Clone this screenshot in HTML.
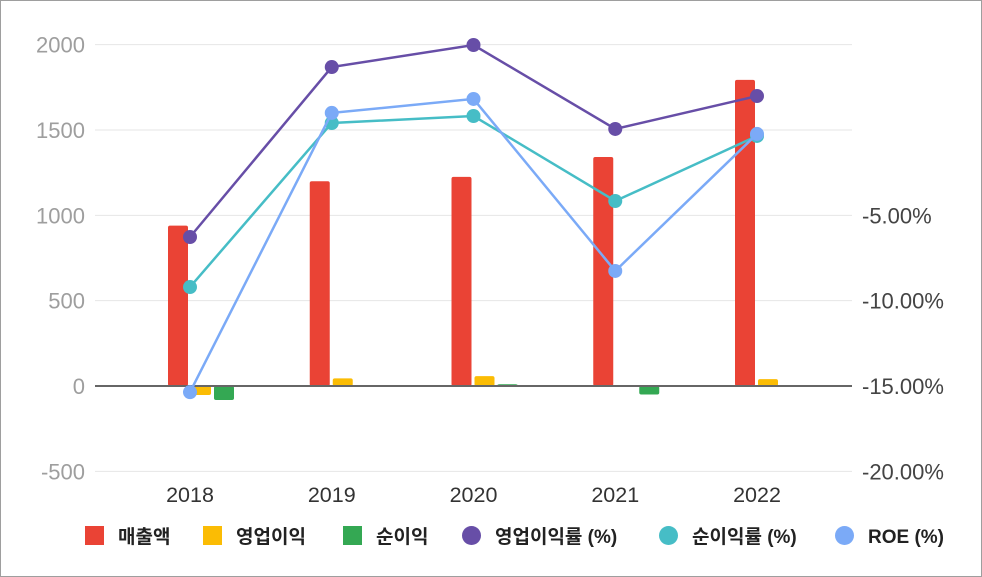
<!DOCTYPE html>
<html><head><meta charset="utf-8"><style>
body{margin:0;background:#fff;}
svg{display:block;font-family:"Liberation Sans","Noto Sans CJK KR",sans-serif;}
</style></head><body>
<svg id="c" width="982" height="577">
<rect x="0.5" y="0.5" width="981" height="576" fill="#fff" stroke="#9e9e9e"/>
</svg>
<script>
const categories=["2018","2019","2020","2021","2022"];
const sales=[940,1200,1225,1342,1794];
const opProfit=[-53,45,58,0,40];
const netProfit=[-82,0,10,-50,0];
const opMargin=[-6.27,3.69,4.98,0.06,1.99];
const netMargin=[-9.2,0.41,0.82,-4.16,-0.35];
const roe=[-15.36,1.0,1.82,-8.26,-0.23];
const leftTicks=[-500,0,500,1000,1500,2000];
const rightTicks=[-20,-15,-10,-5];
const NS="http://www.w3.org/2000/svg";
const svg=document.getElementById('c');
function yL(v){return 386-v*0.17067;}
function yR(v){return 130-v*17.067;}
function xC(i){return 190+i*141.75;}
function mk(t,a,p){const e=document.createElementNS(NS,t);for(const k in a)e.setAttribute(k,a[k]);(p||svg).appendChild(e);return e;}
leftTicks.forEach(t=>{
  if(t!==0){const g=mk('line',{x1:95,x2:852,y1:yL(t),y2:yL(t),stroke:'#e6e6e6'});
  
  }
  const l=mk('text',{x:85,y:yL(t)+8,'text-anchor':'end','font-size':22,fill:'#9e9e9e'});
  
  
  l.textContent=t;
});
rightTicks.forEach(t=>{
  const l=mk('text',{x:862,y:yR(t)+8,'font-size':22,fill:'#444'});
  
  
  l.textContent=t.toFixed(2)+'%';
});
categories.forEach((c,i)=>{
  const l=mk('text',{x:xC(i),y:502,'text-anchor':'middle','font-size':21.5,fill:'#333'});
  
  
  l.textContent=c;
});
const barSeries=[[sales,'#ea4335',-12,'bar-sales'],[opProfit,'#fbbc04',11,'bar-operating-profit'],[netProfit,'#34a853',34,'bar-net-profit']];
barSeries.forEach(([arr,col,off,name])=>{
  arr.forEach((v,i)=>{
    if(v===0)return;
    const y0=yL(0),y1=yL(v);
    const r=mk('rect',{x:xC(i)+off-10,y:Math.min(y0,y1),width:20,height:Math.abs(y1-y0),fill:col,rx:2});
    
    
  });
});
const z=mk('line',{x1:95,x2:852,y1:yL(0),y2:yL(0),stroke:'#666','stroke-width':2});


const lineSeries=[[opMargin,'#674ea7','line-operating-margin'],[netMargin,'#46bdc6','line-net-margin'],[roe,'#7baaf7','line-roe']];
lineSeries.forEach(([arr,col,name])=>{
  const p=mk('polyline',{points:arr.map((v,i)=>xC(i)+','+yR(v)).join(' '),fill:'none',stroke:col,'stroke-width':2.5});
  
  
  arr.forEach((v,i)=>{
    const d=mk('circle',{cx:xC(i),cy:yR(v),r:7,fill:col});
    
    
  });
});
const legend=[['매출액','#ea4335','sq',85],['영업이익','#fbbc04','sq',203],['순이익','#34a853','sq',343],['영업이익률 (%)','#674ea7','c',462],['순이익률 (%)','#46bdc6','c',659],['ROE (%)','#7baaf7','c',835]];
legend.forEach(([t,col,s,x])=>{
  const g=mk('g',{});
  
  
  if(s==='sq')mk('rect',{x:x,y:526,width:19,height:19,fill:col},g);
  else mk('circle',{cx:x+9.5,cy:535.5,r:9.5,fill:col},g);
  const l=mk('text',{x:x+33,y:543,'font-size':19,'font-weight':'bold',fill:'#222'},g);
  l.textContent=t;
});
</script>
</body></html>
